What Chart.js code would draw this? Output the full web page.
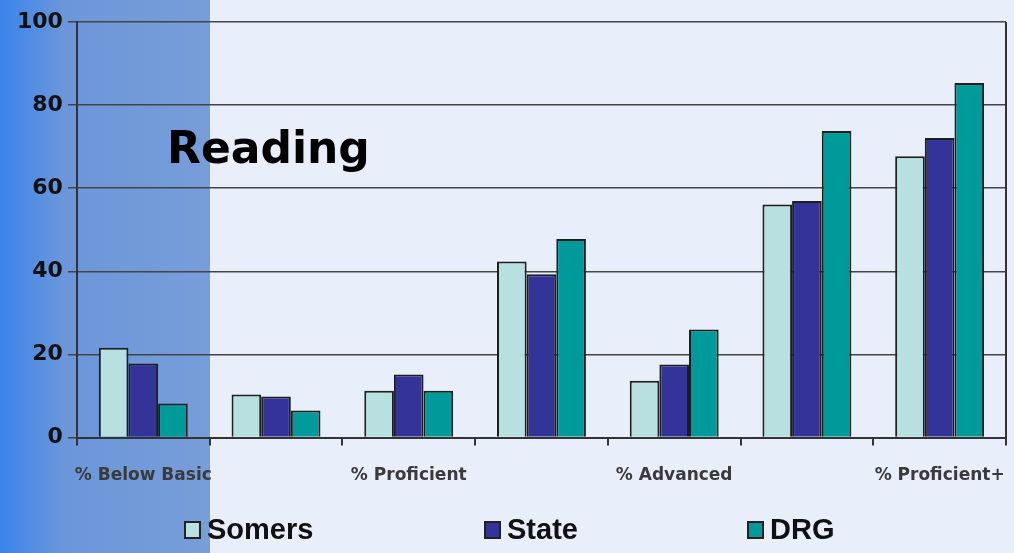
<!DOCTYPE html>
<html>
<head>
<meta charset="utf-8">
<script src="https://cdn.jsdelivr.net/npm/chart.js@4"></script>
<style>
  html, body { margin: 0; padding: 0; background: #e9effa; }
  #wrap { width: 1014px; height: 553px; position: relative; }
</style>
</head>
<body>
<div id="wrap"><canvas id="reading"></canvas></div>
<script>
var categories = ['% Below Basic', '% Basic', '% Proficient', '% Goal', '% Advanced', '% Goal+', '% Proficient+'];
var somers = [21.6, 10.4, 11.3, 42.4, 13.7, 56.1, 67.7];
var state = [17.8, 9.9, 15.2, 39.3, 17.6, 56.9, 72.1];
var drg = [8.2, 6.5, 11.3, 47.8, 26.0, 73.8, 85.3];
var yTicks = [0, 20, 40, 60, 80, 100];

// slide background: blue strip on the left, pale blue elsewhere
var backdrop = {
    id: 'backdrop',
    beforeDraw: function (chart) {
        var c = chart.ctx;
        c.save();
        c.fillStyle = '#e9effa';
        c.fillRect(0, 0, chart.width, chart.height);
        var g = c.createLinearGradient(0, 0, 210, 0);
        g.addColorStop(0, '#3a84ea');
        g.addColorStop(0.3, '#6b96da');
        g.addColorStop(1, '#789ed8');
        c.fillStyle = g;
        c.fillRect(0, 0, 210, chart.height);
        c.restore();
    }
};

// "Reading" label, right border line and legend
var extras = {
    id: 'extras',
    afterDraw: function (chart) {
        var c = chart.ctx;
        var a = chart.chartArea;
        c.save();
        c.strokeStyle = '#333';
        c.lineWidth = 2;
        c.beginPath();
        c.moveTo(a.right, a.top);
        c.lineTo(a.right, a.bottom);
        c.stroke();

        c.fillStyle = '#000';
        c.font = 'bold 44px "DejaVu Sans", sans-serif';
        c.textBaseline = 'middle';
        c.fillText('Reading', 167, 152);

        var xs = [185, 485, 748];
        c.font = 'bold 29px "Liberation Sans", Arial, sans-serif';
        chart.data.datasets.forEach(function (ds, i) {
            c.fillStyle = ds.backgroundColor;
            c.fillRect(xs[i], 522, 15, 16);
            c.strokeStyle = '#222';
            c.lineWidth = 2;
            c.strokeRect(xs[i], 522, 15, 16);
            c.fillStyle = '#111';
            c.fillText(ds.label, xs[i] + 22, 531);
        });
        c.restore();
    }
};

var ctx = document.getElementById('reading').getContext('2d');
var chart = new Chart(ctx, {
    type: 'bar',
    data: {
        labels: categories,
        datasets: [
            { label: 'Somers', data: somers, backgroundColor: '#b8e0e0' },
            { label: 'State', data: state, backgroundColor: '#33339a' },
            { label: 'DRG', data: drg, backgroundColor: '#009a9a' }
        ]
    },
    plugins: [backdrop, extras],
    options: {
        responsive: true,
        maintainAspectRatio: false,
        animation: false,
        layout: { padding: { top: 22, right: 8, bottom: 47, left: 12 } },
        datasets: {
            bar: {
                borderColor: '#1e1e1e',
                borderWidth: 2,
                barPercentage: 1,
                categoryPercentage: 0.67
            }
        },
        plugins: {
            legend: { display: false },
            tooltip: { enabled: false }
        },
        scales: {
            x: {
                // let the wide end labels hang over the plot edges
                afterFit: function (axis) { axis.paddingLeft = 0; axis.paddingRight = 0; },
                grid: { drawOnChartArea: false, drawTicks: true, tickLength: 8, color: '#333', lineWidth: 2, offset: true },
                border: { color: '#333', width: 2 },
                ticks: {
                    autoSkip: false,
                    maxRotation: 0,
                    padding: 20,
                    color: '#3a3a3a',
                    font: { family: '"DejaVu Sans", sans-serif', size: 17, weight: 'bold' },
                    callback: function (v, i) { return i % 2 === 0 ? categories[i] : ''; }
                }
            },
            y: {
                min: 0,
                max: 100,
                afterBuildTicks: function (axis) {
                    axis.ticks = yTicks.map(function (v) { return { value: v }; });
                },
                grid: { color: '#444', lineWidth: 1.5, tickLength: 9 },
                border: { color: '#333', width: 2 },
                ticks: {
                    padding: 5,
                    color: '#111',
                    font: { family: '"DejaVu Sans", sans-serif', size: 22, weight: 'bold' }
                }
            }
        }
    }
});
</script>
</body>
</html>
